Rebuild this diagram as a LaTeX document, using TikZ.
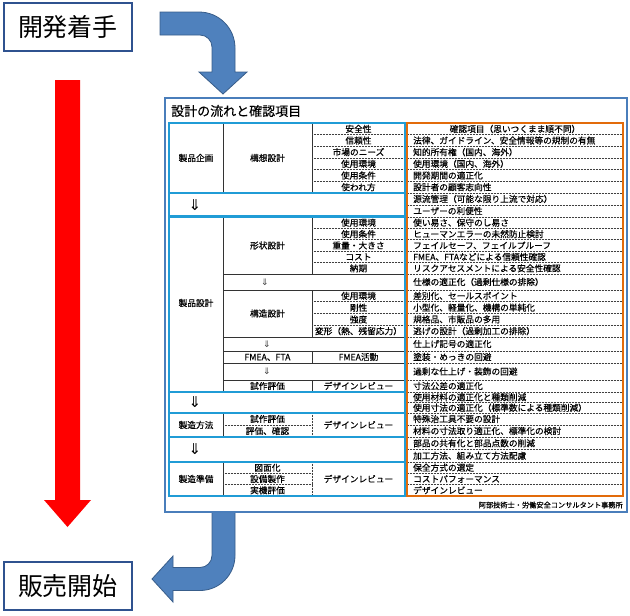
\documentclass[tikz,border=0pt]{standalone}
\usepackage{fontspec}
\setmainfont{Noto Sans CJK JP}
\newfontfamily\cellfont[FakeBold=0.35]{Noto Sans CJK JP}
\newfontfamily\symfont{DejaVu Sans}
\definecolor{navybox}{RGB}{47,82,143}
\definecolor{arrowfill}{RGB}{79,129,189}
\definecolor{arrowline}{RGB}{56,93,138}
\definecolor{panelline}{RGB}{74,126,187}
\definecolor{secblue}{RGB}{32,156,214}
\definecolor{orangeline}{RGB}{226,107,10}
\tikzset{
  bigbox/.style={draw=navybox, line width=2pt, fill=white, minimum width=128pt, minimum height=48pt, inner sep=0pt, font=\fontsize{25}{25}\selectfont},
  blockarrow/.style={fill=arrowfill, draw=arrowline, line width=0.8pt},
  secbox/.style={draw=secblue, line width=2pt},
  colbox/.style={draw=orangeline, line width=1.8pt},
  solidsep/.style={draw=black!80, line width=0.6pt},
  dotsep/.style={draw=black!75, line width=0.7pt, dash pattern=on 0.8pt off 0.7pt},
  cell/.style={inner sep=0pt, font=\cellfont\fontsize{8.7}{9}\selectfont, text height=7.6pt, text depth=1pt},
  bigdn/.style={inner sep=0pt, font=\symfont\fontsize{15}{15}\selectfont},
  smalldn/.style={inner sep=0pt, text=black!75, font=\symfont\fontsize{9}{9}\selectfont}
}
\begin{document}
\begin{tikzpicture}[x=1pt,y=-1pt]
\useasboundingbox (0,0) rectangle (630,616);
% red progress arrow
\fill[red] (55,80) -- (80,80) -- (80,500) -- (91,500) -- (67.5,527) -- (44,500) -- (55,500) -- cycle;
% top curved arrow
\draw[blockarrow] (160,12) -- (199,12) .. controls (218.9,12) and (235,28.1) .. (235,48) -- (235,72) -- (247,72) -- (223,94) -- (199,72) -- (212,72) -- (212,47) .. controls (212,40.4) and (206.6,35) .. (200,35) -- (160,35) -- cycle;
% bottom curved arrow
\draw[blockarrow] (212,505) -- (235,505) -- (235,555.5) .. controls (235,574.8) and (219.3,590.5) .. (200,590.5) -- (173,590.5) -- (173,602) -- (152,579) -- (173,556) -- (173,567.5) -- (200,567.5) .. controls (206.6,567.5) and (212,562.1) .. (212,555.5) -- cycle;
% start / end boxes
\node[bigbox] (start) at (68,27) {開発着手};
\node[bigbox] (finish) at (68,586) {販売開始};
% panel
\draw[draw=panelline, line width=2.5pt, fill=white] (165,98) rectangle (627,512);
\node[anchor=west, inner sep=0pt, font=\cellfont\fontsize{13}{13}\selectfont] (title) at (171,111) {設計の流れと確認項目};
\node[anchor=east, inner sep=0pt, font=\cellfont\fontsize{7.2}{7.2}\selectfont] (credit) at (623,505) {阿部技術士・労働安全コンサルタント事務所};

% ---------- right column ----------
\draw[colbox] (407,123) rectangle (623,496);
\node[cell] (r1) at (515,129) {確認項目（思いつくまま順不同）};
\foreach \t/\b/\txt [count=\i from 2] in {
134.7/146.3/法律、ガイドライン、安全情報等の規制の有無,
146.3/158/知的所有権（国内、海外）,
158/169.7/使用環境（国内、海外）,
169.7/181.3/開発期間の適正化,
181.3/193/設計者の顧客志向性,
193/205/源流管理（可能な限り上流で対応）,
205/217/ユーザーの利便性,
217/228.4/使い易さ、保守のし易さ,
228.4/239.8/ヒューマンエラーの未然防止検討,
239.8/251.2/フェイルセーフ、フェイルプルーフ,
251.2/262.6/FMEA、FTAなどによる信頼性確認,
262.6/274/リスクアセスメントによる安全性確認,
274/290/仕様の適正化（過剰仕様の排除）,
290/301.75/差別化、セールスポイント,
301.75/313.5/小型化、軽量化、機構の単純化,
313.5/325.25/規格品、市販品の多用,
325.25/337/逃げの設計（過剰加工の排除）,
337/351/仕上げ記号の適正化,
351/363/塗装・めっきの回避,
363/380/過剰な仕上げ・装飾の回避,
380/392/寸法公差の適正化,
392/402.5/使用材料の適正化と種類削減,
402.5/413/使用寸法の適正化（標準数による種類削減）,
413/425/特殊治工具不要の設計,
425/437/材料の寸法取り適正化、標準化の検討,
437/449.5/部品の共有化と部品点数の削減,
449.5/462/加工方法、組み立て方法配慮,
462/473.3/保全方式の選定,
473.3/484.7/コストパフォーマンス,
484.7/496/デザインレビュー}{
  \draw[dotsep] (408,\t) -- (622,\t);
  \node[cell, anchor=west] (r\i) at (413,{(\t+\b)/2}) {\txt};
}

% ---------- section 1: 製品企画 ----------
\draw[solidsep] (223,123) -- (223,193);
\draw[solidsep] (312,123) -- (312,193);
\foreach \y in {134.7,146.3,158,169.7,181.3} \draw[dotsep] (312,\y) -- (405,\y);
\node[cell] (p1) at (196,158) {製品企画};
\node[cell] (p2) at (267.5,158) {構想設計};
\foreach \t/\b/\txt [count=\i] in {123/134.7/安全性,134.7/146.3/信頼性,146.3/158/市場のニーズ,158/169.7/使用環境,169.7/181.3/使用条件,181.3/193/使われ方}
  \node[cell] (pa\i) at (358.5,{(\t+\b)/2}) {\txt};
\draw[secbox] (169,123) rectangle (405,193);
% arrow row 1
\draw[secbox] (169,193) rectangle (405,216);
\node[bigdn] (d1) at (195,205) {⇓};

% ---------- section 2: 製品設計 ----------
\draw[solidsep] (223,217) -- (223,392);
\foreach \y in {274,290,337,351,363,380} \draw[solidsep] (223,\y) -- (405,\y);
\draw[solidsep] (312,217) -- (312,274);
\draw[solidsep] (312,290) -- (312,337);
\draw[solidsep] (312,351) -- (312,363);
\draw[solidsep] (312,380) -- (312,392);
\foreach \y in {228.4,239.8,251.2,262.6,301.75,313.5,325.25} \draw[dotsep] (312,\y) -- (405,\y);
\node[cell] (q1) at (196,303) {製品設計};
\node[cell] (q2) at (267.5,245.5) {形状設計};
\foreach \t/\b/\txt [count=\i] in {217/228.4/使用環境,228.4/239.8/使用条件,239.8/251.2/重量・大きさ,251.2/262.6/コスト,262.6/274/納期}
  \node[cell] (qa\i) at (358.5,{(\t+\b)/2}) {\txt};
\node[smalldn] (d2) at (265,282) {⇓};
\node[cell] (q3) at (267.5,313.5) {構造設計};
\foreach \t/\b/\txt [count=\i] in {290/301.75/使用環境,301.75/313.5/剛性,313.5/325.25/強度,325.25/337/変形（熱、残留応力）}
  \node[cell] (qb\i) at (358.5,{(\t+\b)/2}) {\txt};
\node[smalldn] (d3) at (267,344) {⇓};
\node[cell] (q4) at (267.5,357) {FMEA、FTA};
\node[cell] (q5) at (358.5,357) {FMEA活動};
\node[smalldn] (d4) at (267,371.5) {⇓};
\node[cell] (q6) at (267.5,386) {試作評価};
\node[cell] (q7) at (358.5,386) {デザインレビュー};
\draw[secbox] (169,217) rectangle (405,392);
% arrow row 2
\draw[secbox] (169,392) rectangle (405,413);
\node[bigdn] (d5) at (195,402.5) {⇓};

% ---------- section 3: 製造方法 ----------
\draw[solidsep] (223,413) -- (223,437);
\draw[dotsep] (312,413) -- (312,437);
\draw[dotsep] (223,425) -- (312,425);
\node[cell] (m1) at (196,425) {製造方法};
\node[cell] (m2) at (267.5,419) {試作評価};
\node[cell] (m3) at (267.5,431) {評価、確認};
\node[cell] (m4) at (358.5,425) {デザインレビュー};
\draw[secbox] (169,413) rectangle (405,437);
% arrow row 3
\draw[secbox] (169,437) rectangle (405,462);
\node[bigdn] (d6) at (195,449.5) {⇓};

% ---------- section 4: 製造準備 ----------
\draw[solidsep] (223,462) -- (223,496);
\draw[dotsep] (312,462) -- (312,496);
\draw[dotsep] (223,473.3) -- (312,473.3);
\draw[dotsep] (223,484.7) -- (312,484.7);
\node[cell] (n1) at (196,479) {製造準備};
\node[cell] (n2) at (267.5,467.7) {図面化};
\node[cell] (n3) at (267.5,479) {設備製作};
\node[cell] (n4) at (267.5,490.3) {実機評価};
\node[cell] (n5) at (358.5,479) {デザインレビュー};
\draw[secbox] (169,462) rectangle (405,496);
\end{tikzpicture}
\end{document}
